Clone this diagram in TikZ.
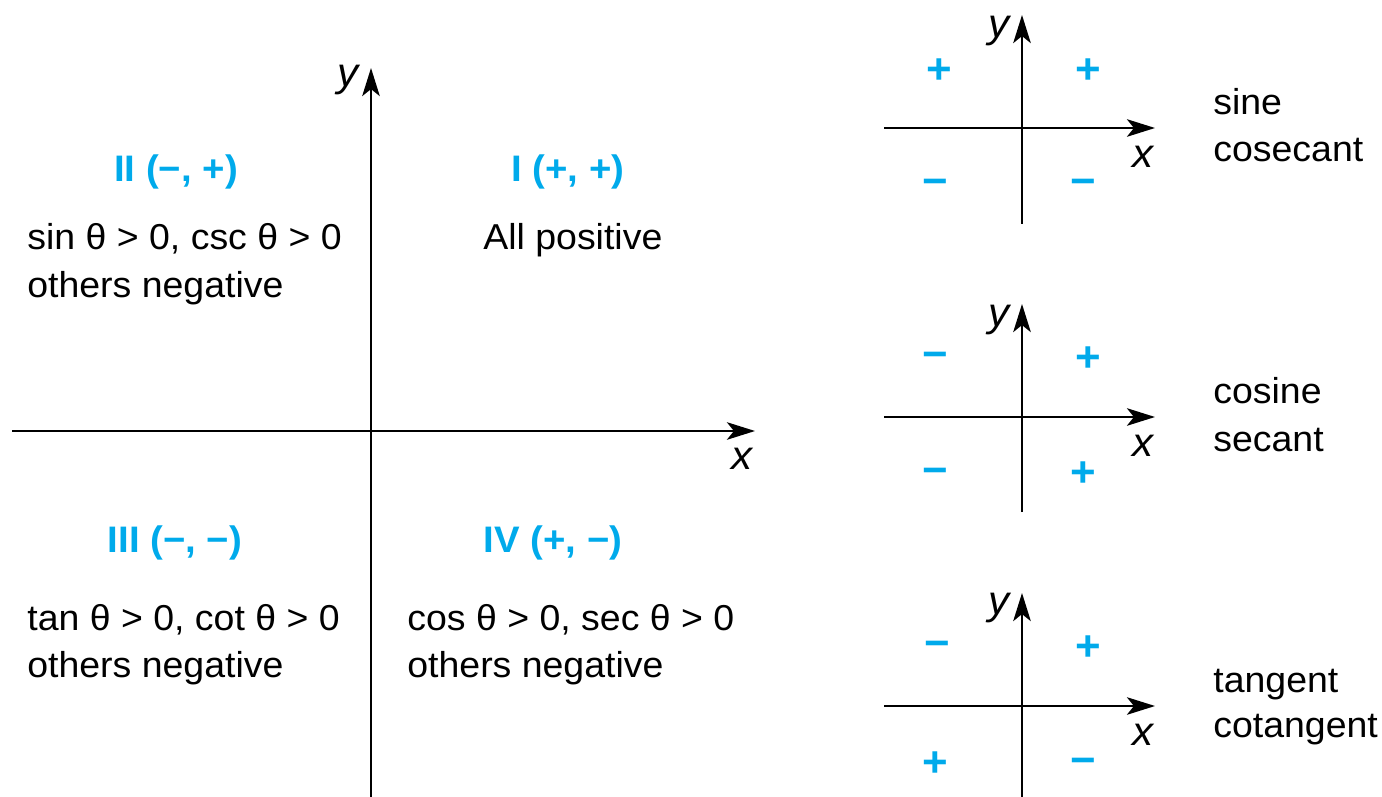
\documentclass[tikz,border=0pt]{standalone}
\usepackage{fontspec}
\setmainfont{Liberation Sans}[FakeStretch=1.04]
\usetikzlibrary{arrows.meta}
\definecolor{qblue}{RGB}{0,170,235}
\begin{document}
\begin{tikzpicture}[x=0.02cm,y=-0.02cm,
  axis/.style={line width=1.1pt,-{Stealth[length=16pt,width=10pt,inset=4pt]}},
  txt/.style={font=\fontsize{20.5}{24}\selectfont,inner sep=0pt,anchor=base west},
  quad/.style={font=\fontsize{21}{24}\selectfont\bfseries,text=qblue,inner sep=0pt,anchor=base},
  sgn/.style={font=\fontsize{24}{24}\selectfont\bfseries,text=qblue,inner sep=0pt},
  msgn/.style={sgn,yshift=-3.5pt},
  lbl/.style={font=\fontsize{23}{24}\selectfont\itshape,inner sep=0pt}]
\useasboundingbox (0,0) rectangle (1382,797);
% main axes
\coordinate (mxl) at (12,431); \coordinate (mxr) at (755,431);
\coordinate (myb) at (371,797); \coordinate (myt) at (371,68);
\draw[axis] (mxl) -- (mxr);
\draw[axis] (myb) -- (myt);
\node[lbl] (my) at (348,80) {y};
\node[lbl] (mx) at (742,459) {x};
% quadrant headings
\node[quad] (q2) at (176,182) {II (−, +)};
\node[quad] (q1) at (568,182) {I (+, +)};
\node[quad] (q3) at (175,552) {III (−, −)};
\node[quad] (q4) at (553,552) {IV (+, −)};
% quadrant texts
\node[txt] (t2a) at (27,250) {sin θ > 0, csc θ > 0};
\node[txt] (t2b) at (27,297) {others negative};
\node[txt] (t1a) at (483,250) {All positive};
\node[txt] (t3a) at (27,630) {tan θ > 0, cot θ > 0};
\node[txt] (t3b) at (27,677) {others negative};
\node[txt] (t4a) at (407,630) {cos θ > 0, sec θ > 0};
\node[txt] (t4b) at (407,677) {others negative};
% small axes 1
\coordinate (axl) at (884,128); \coordinate (axr) at (1155,128);
\coordinate (ayb) at (1022,224); \coordinate (ayt) at (1022,15);
\draw[axis] (axl) -- (axr);
\draw[axis] (ayb) -- (ayt);
\node[lbl] (ay) at (999,31) {y};
\node[lbl] (ax) at (1143,157) {x};
\node[sgn] (a2) at (939,71) {+};
\node[sgn] (a1) at (1088,71) {+};
\node[msgn] (a3) at (935,181) {−};
\node[msgn] (a4) at (1083,181) {−};
\node[txt] (as) at (1213,115) {sine};
\node[txt] (ac) at (1213,162) {cosecant};
% small axes 2
\coordinate (bxl) at (884,417); \coordinate (bxr) at (1155,417);
\coordinate (byb) at (1022,512); \coordinate (byt) at (1022,304);
\draw[axis] (bxl) -- (bxr);
\draw[axis] (byb) -- (byt);
\node[lbl] (by) at (999,320) {y};
\node[lbl] (bx) at (1143,446) {x};
\node[msgn] (b2) at (935,354) {−};
\node[sgn] (b1) at (1088,359) {+};
\node[msgn] (b3) at (935,470) {−};
\node[sgn] (b4) at (1083,474) {+};
\node[txt] (bs) at (1213,403) {cosine};
\node[txt] (bc) at (1213,451) {secant};
% small axes 3
\coordinate (cxl) at (884,706); \coordinate (cxr) at (1155,706);
\coordinate (cyb) at (1022,797); \coordinate (cyt) at (1022,593);
\draw[axis] (cxl) -- (cxr);
\draw[axis] (cyb) -- (cyt);
\node[lbl] (cy) at (999,608) {y};
\node[lbl] (cx) at (1143,735) {x};
\node[msgn] (c2) at (937,643) {−};
\node[sgn] (c1) at (1088,648) {+};
\node[sgn] (c3) at (935,764) {+};
\node[msgn] (c4) at (1083,760) {−};
\node[txt] (ct) at (1213,692) {tangent};
\node[txt] (cc) at (1213,737) {cotangent};
\end{tikzpicture}
\end{document}
